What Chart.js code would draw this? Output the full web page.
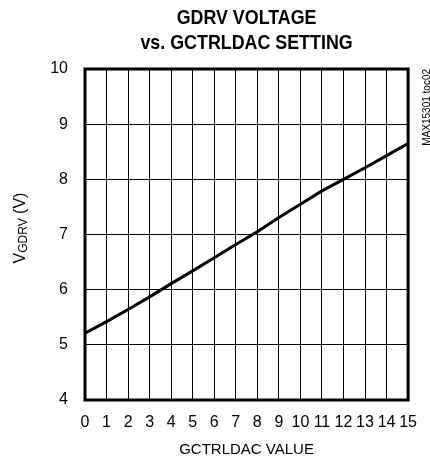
<!DOCTYPE html>
<html>
<head>
<meta charset="utf-8">
<script src="https://cdn.jsdelivr.net/npm/chart.js@4.4.1/dist/chart.umd.min.js"></script>
<style>
  html, body { margin: 0; padding: 0; background: #fff; }
  #wrap { width: 430px; height: 464px; }
</style>
</head>
<body>
<div id="wrap"><canvas id="myChart"></canvas></div>
<script>
var FONT = "'Liberation Sans Narrow', 'Liberation Sans', Arial, sans-serif";

var dacSetting = [0, 1, 2, 3, 4, 5, 6, 7, 8, 9, 10, 11, 12, 13, 14, 15];
var gdrvVolts = [5.21, 5.42, 5.64, 5.87, 6.11, 6.34, 6.58, 6.82, 7.05, 7.31, 7.55, 7.79, 8.0, 8.21, 8.43, 8.65];
var titleLines = ['GDRV VOLTAGE', 'vs. GCTRLDAC SETTING'];
var noteText = 'MAX15301 toc02';

// titles, y-axis label with subscript, frame and side note
var decorations = {
  id: 'decorations',
  afterDraw: function(chart) {
    var ctx = chart.ctx;
    var a = chart.chartArea;
    var cx = (a.left + a.right) / 2;
    ctx.save();
    ctx.fillStyle = '#000';

    // title, squeezed sideways to look like a narrow face
    ctx.save();
    ctx.translate(cx, 0);
    ctx.scale(0.85, 1);
    ctx.textAlign = 'center';
    ctx.textBaseline = 'middle';
    ctx.font = 'bold 21px ' + FONT;
    ctx.fillText(titleLines[0], 0, 18);
    ctx.fillText(titleLines[1], 0, 43);
    ctx.restore();

    // frame
    ctx.strokeStyle = '#000';
    ctx.lineWidth = 3;
    ctx.strokeRect(a.left, a.top, a.right - a.left, a.bottom - a.top);

    // side note
    ctx.save();
    ctx.translate(427, a.top);
    ctx.rotate(-Math.PI / 2);
    ctx.font = '10px ' + FONT;
    ctx.textAlign = 'right';
    ctx.textBaseline = 'middle';
    ctx.fillText(noteText, 0, 0);
    ctx.restore();

    // y label: V with GDRV subscript
    var big = '16px ' + FONT, small = '12px ' + FONT;
    ctx.font = big;
    var w1 = ctx.measureText('V').width;
    var w3 = ctx.measureText(' (V)').width;
    ctx.font = small;
    var w2 = ctx.measureText('GDRV').width;
    var total = w1 + w2 + w3;
    ctx.translate(25, 228);
    ctx.rotate(-Math.PI / 2);
    ctx.textAlign = 'left';
    ctx.textBaseline = 'alphabetic';
    var x = -total / 2;
    ctx.font = big;
    ctx.fillText('V', x, 0);
    x += w1;
    ctx.font = small;
    ctx.fillText('GDRV', x, 2);
    x += w2;
    ctx.font = big;
    ctx.fillText(' (V)', x, 0);
    ctx.restore();
  }
};

var ctx = document.getElementById('myChart');
new Chart(ctx, {
  type: 'line',
  data: {
    datasets: [{
      data: dacSetting.map(function(v, i) { return { x: v, y: gdrvVolts[i] }; }),
      borderColor: '#000',
      borderWidth: 3,
      pointRadius: 0,
      fill: false,
      tension: 0
    }]
  },
  options: {
    responsive: true,
    maintainAspectRatio: false,
    animation: false,
    layout: { padding: { top: 69, right: 14, left: 0, bottom: 0 } },
    plugins: {
      legend: { display: false },
      title: { display: false },
      tooltip: { enabled: false }
    },
    scales: {
      x: {
        type: 'linear',
        min: 0,
        max: 15,
        afterFit: function(scale) { scale.height = 64; },
        ticks: {
          stepSize: 1,
          padding: 13,
          color: '#000',
          font: { family: FONT, size: 16 },
          maxRotation: 0,
          autoSkip: false
        },
        grid: { color: '#000', lineWidth: 1, drawTicks: false },
        border: { display: false },
        title: {
          display: true,
          text: 'GCTRLDAC VALUE',
          color: '#000',
          font: { family: FONT, size: 15 },
          padding: { top: 0, bottom: 5 }
        }
      },
      y: {
        min: 4,
        max: 10,
        afterFit: function(scale) { scale.width = 85; },
        ticks: {
          stepSize: 1,
          padding: 17,
          color: '#000',
          font: { family: FONT, size: 16 }
        },
        grid: { color: '#000', lineWidth: 1, drawTicks: false },
        border: { display: false }
      }
    }
  },
  plugins: [decorations]
});
</script>
</body>
</html>
